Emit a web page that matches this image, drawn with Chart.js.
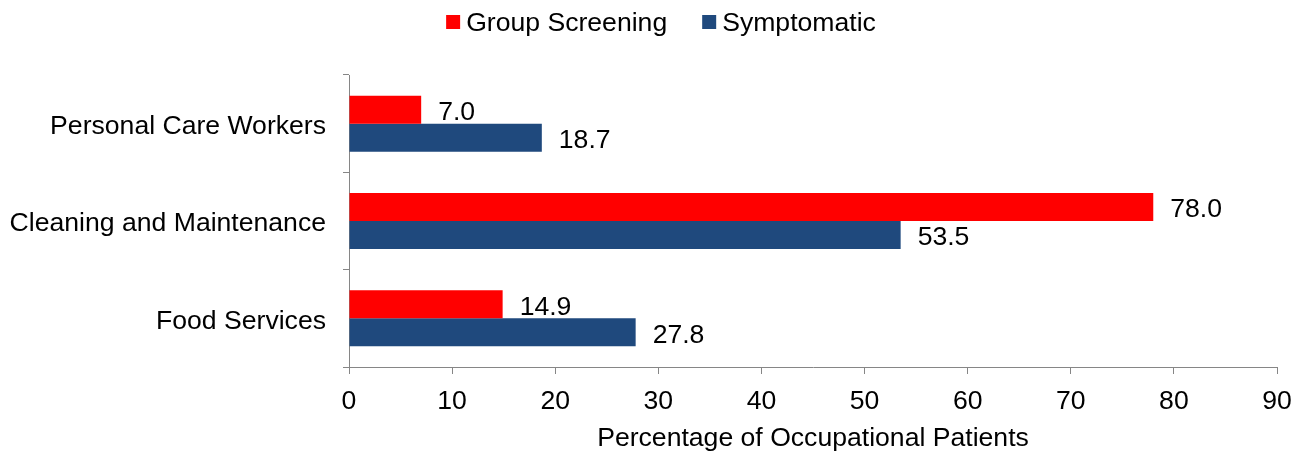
<!DOCTYPE html>
<html>
<head>
<meta charset="utf-8">
<title>Percentage of Occupational Patients</title>
<script src="https://cdn.jsdelivr.net/npm/chart.js@4/dist/chart.umd.min.js"></script>
<style>
    body { margin: 0; background: #ffffff; }
    #contenedor { width: 1304px; height: 452px; }
</style>
</head>
<body>
<div id="contenedor">
    <canvas id="grafico" width="1304" height="452"></canvas>
</div>
<script>
var categorias = ["Personal Care Workers", "Cleaning and Maintenance", "Food Services"];
var grupoScreening = [7.0, 78.0, 14.9];
var sintomatico = [18.7, 53.5, 27.8];
var nombresSeries = ["Group Screening", "Symptomatic"];
var coloresSeries = ["#ff0000", "#1f497d"];
var tituloEjeX = "Percentage of Occupational Patients";

var fuente = "'Liberation Sans', Arial, sans-serif";
var tamFuente = 26.6;
var colorEje = "#868686";

Chart.defaults.font.family = fuente;
Chart.defaults.font.size = tamFuente;
Chart.defaults.color = "#000000";

// etiquetas con el valor al final de cada barra
var pluginEtiquetas = {
    id: "etiquetas",
    afterDatasetsDraw: function (chart)
    {
        var ctx = chart.ctx;
        ctx.save();
        ctx.font = tamFuente + "px " + fuente;
        ctx.fillStyle = "#000000";
        ctx.textAlign = "left";
        ctx.textBaseline = "middle";
        chart.data.datasets.forEach(function (ds, i) {
            var meta = chart.getDatasetMeta(i);
            meta.data.forEach(function (barra, j) {
                ctx.fillText(ds.data[j].toFixed(1), barra.x + 17, barra.y + 3);
            });
        });
        ctx.restore();
    }
};

// leyenda arriba con cuadrados pequenos
var pluginLeyenda = {
    id: "leyenda",
    afterDraw: function (chart)
    {
        var ctx = chart.ctx;
        var caja = 14, espacio = 6, separacion = 35;
        ctx.save();
        ctx.font = tamFuente + "px " + fuente;
        ctx.textAlign = "left";
        ctx.textBaseline = "middle";
        var anchos = nombresSeries.map(function (n) { return ctx.measureText(n).width; });
        var total = 0;
        anchos.forEach(function (a) { total += caja + espacio + a; });
        total += separacion * (anchos.length - 1);
        var x = 661 - total / 2;
        var y = 22;
        nombresSeries.forEach(function (n, i) {
            ctx.fillStyle = coloresSeries[i];
            ctx.fillRect(x, y - caja / 2, caja, caja);
            ctx.fillStyle = "#000000";
            ctx.fillText(n, x + caja + espacio, y + 2);
            x += caja + espacio + anchos[i] + separacion;
        });
        ctx.restore();
    }
};

function generarGraficoBarras(canvas)
{
    new Chart(canvas, {
        type: "bar",
        data: {
            labels: categorias,
            datasets: [
                {
                    label: nombresSeries[0],
                    data: grupoScreening,
                    backgroundColor: coloresSeries[0]
                },
                {
                    label: nombresSeries[1],
                    data: sintomatico,
                    backgroundColor: coloresSeries[1]
                }]
        },
        options: {
            indexAxis: "y",
            responsive: false,
            animation: false,
            datasets: {
                bar: {
                    categoryPercentage: 0.575,
                    barPercentage: 1.0
                }
            },
            layout: {
                padding: { top: 75, right: 27, bottom: 0, left: 0 }
            },
            plugins: {
                legend: { display: false },
                tooltip: { enabled: false }
            },
            scales: {
                x: {
                    min: 0,
                    max: 90,
                    ticks: { stepSize: 10, padding: 12, color: "#000000" },
                    grid: {
                        drawOnChartArea: false,
                        drawTicks: true,
                        tickLength: 7,
                        color: colorEje
                    },
                    border: { color: colorEje },
                    title: {
                        display: true,
                        text: tituloEjeX,
                        color: "#000000",
                        font: { size: tamFuente, lineHeight: 1 },
                        padding: { top: 0, bottom: 0 }
                    },
                    afterFit: function (escala) { escala.height = 85; }
                },
                y: {
                    ticks: { padding: 17, labelOffset: 3, color: "#000000" },
                    grid: {
                        offset: true,
                        drawOnChartArea: false,
                        drawTicks: true,
                        tickLength: 6,
                        color: colorEje
                    },
                    border: { color: colorEje },
                    afterFit: function (escala) { escala.width = 349; }
                }
            }
        },
        plugins: [pluginEtiquetas, pluginLeyenda]
    });
}

generarGraficoBarras(document.getElementById("grafico"));
</script>
</body>
</html>
